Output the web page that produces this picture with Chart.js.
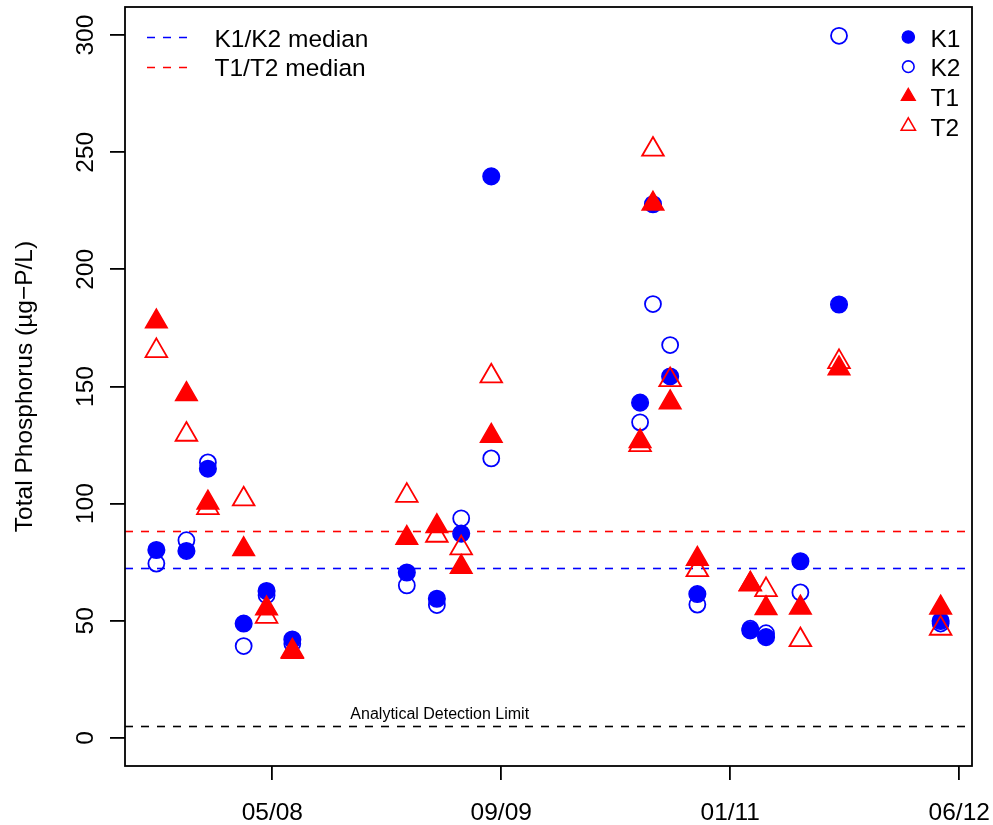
<!DOCTYPE html>
<html>
<head>
<meta charset="utf-8">
<script src="https://cdn.jsdelivr.net/npm/chart.js@4.4.0/dist/chart.umd.min.js"></script>
<style>
  html, body { margin: 0; padding: 0; background: #fff; }
  canvas { display: block; }
</style>
</head>
<body>
<canvas id="tpChart" width="993" height="825"></canvas>
<script>
// sampling dates, in months since Jan 2007
const sampleMonths = [7.9, 10.0, 11.5, 14.0, 15.6, 17.4, 25.4, 27.5, 29.2, 31.3,
                      41.7, 42.6, 43.8, 45.7, 49.4, 50.5, 52.9, 55.6, 62.7];
const k1Values = [80.2, 79.8, 114.9, 48.8, 62.7, 42.0, 70.6, 59.4, 87.2, 239.7,
                  143.1, 227.8, 154.3, 61.4, 45.9, 43.0, 75.4, 185.0, 49.9];
const k2Values = [74.4, 84.4, 117.6, 39.2, 60.9, 40.2, 65.1, 56.7, 93.7, 119.3,
                  134.7, 185.2, 167.7, 56.9, 46.6, 44.7, 62.1, 299.7, 48.8];
const t1Values = [177.7, 146.7, 100.4, 80.5, 55.2, 36.7, 85.3, 90.3, 73.0, 128.9,
                  126.6, 228.0, 143.2, 76.4, 65.7, 55.3, 55.6, 157.7, 55.6];
const t2Values = [165.2, 129.5, 98.2, 101.9, 51.8, 37.0, 103.4, 86.4, 81.0, 154.4,
                  125.1, 251.2, 152.8, 71.7, 65.5, 63.2, 41.8, 160.5, 46.7];

const xTickMonths = [16, 32, 48, 64];
const xTickLabels = ['05/08', '09/09', '01/11', '06/12'];
const yTickValues = [0, 50, 100, 150, 200, 250, 300];

const kMedian = 72.5;
const tMedian = 88.4;
const detectionLimit = 5;
const detectionLabelMonth = 27.7;

const BLUE = '#0000ff';
const RED = '#ff0000';
const FONT = '"Liberation Sans", Arial, Helvetica, sans-serif';

// R style axis limits: data range plus 4% each side
const xLo = Math.min(...sampleMonths), xHi = Math.max(...sampleMonths);
const xMin = xLo - 0.04 * (xHi - xLo);
const xMax = xHi + 0.04 * (xHi - xLo);

function toPoints(vals) {
    return vals.map((v, i) => ({ x: sampleMonths[i], y: v }));
}

function marker(ctx, style, x, y, r, filled, color, lw) {
    ctx.save();
    ctx.beginPath();
    if (style === 'circle') {
        ctx.arc(x, y, r, 0, Math.PI * 2);
    } else {
        ctx.moveTo(x, y - r);
        ctx.lineTo(x + r * Math.sin(Math.PI * 2 / 3), y + r / 2);
        ctx.lineTo(x - r * Math.sin(Math.PI * 2 / 3), y + r / 2);
        ctx.closePath();
    }
    ctx.strokeStyle = color;
    ctx.lineWidth = lw;
    if (filled) { ctx.fillStyle = color; ctx.fill(); }
    ctx.stroke();
    ctx.restore();
}

const rLook = {
    id: 'rLook',
    beforeDatasetsDraw(chart) {
        const { ctx, chartArea: a, scales: { x, y } } = chart;
        ctx.save();
        ctx.beginPath();
        ctx.rect(a.left, a.top, a.right - a.left, a.bottom - a.top);
        ctx.clip();
        ctx.lineWidth = 1.6;
        ctx.setLineDash([8, 8]);
        [[kMedian, BLUE], [tMedian, RED], [detectionLimit, '#000']].forEach(([v, c]) => {
            const py = Math.round(y.getPixelForValue(v)) + 0.5;
            ctx.strokeStyle = c;
            ctx.beginPath();
            ctx.moveTo(a.left, py);
            ctx.lineTo(a.right, py);
            ctx.stroke();
        });
        ctx.setLineDash([]);
        ctx.fillStyle = '#000';
        ctx.font = '16px ' + FONT;
        ctx.textAlign = 'center';
        ctx.textBaseline = 'alphabetic';
        ctx.fillText('Analytical Detection Limit',
            x.getPixelForValue(detectionLabelMonth), y.getPixelForValue(detectionLimit) - 7.5);
        ctx.restore();
    },
    afterDraw(chart) {
        const { ctx, chartArea: a, scales: { x, y } } = chart;
        ctx.save();
        // box
        ctx.strokeStyle = '#000';
        ctx.lineWidth = 1.8;
        ctx.strokeRect(a.left, a.top, a.right - a.left, a.bottom - a.top);

        ctx.fillStyle = '#000';
        ctx.font = '24.5px ' + FONT;
        ctx.textBaseline = 'alphabetic';
        ctx.textAlign = 'center';
        // x tick labels
        x.ticks.forEach((t, i) => {
            ctx.fillText(xTickLabels[i], x.getPixelForValue(t.value), 819.5);
        });
        // y tick labels, rotated like R
        y.ticks.forEach(t => {
            ctx.save();
            ctx.translate(93, y.getPixelForValue(t.value));
            ctx.rotate(-Math.PI / 2);
            ctx.fillText(String(t.value), 0, 0);
            ctx.restore();
        });
        // axis title
        ctx.save();
        ctx.translate(32, (a.top + a.bottom) / 2);
        ctx.rotate(-Math.PI / 2);
        ctx.fillText('Total Phosphorus (\u00b5g\u2212P/L)', 0, 0);
        ctx.restore();

        // legend, top left (median lines)
        ctx.textAlign = 'left';
        const rowH = 29.7, top = 37;
        [['K1/K2 median', BLUE], ['T1/T2 median', RED]].forEach(([txt, c], i) => {
            const ly = Math.round(top + i * rowH) + 0.5;
            ctx.save();
            ctx.strokeStyle = c;
            ctx.lineWidth = 1.6;
            ctx.setLineDash([8, 8]);
            ctx.beginPath();
            ctx.moveTo(147, ly);
            ctx.lineTo(188, ly);
            ctx.stroke();
            ctx.restore();
            ctx.fillText(txt, 214.5, top + i * rowH + 9.5);
        });

        // legend, top right (sites)
        const items = [
            ['K1', 'circle', true, BLUE, 6.2],
            ['K2', 'circle', false, BLUE, 5.8],
            ['T1', 'triangle', true, RED, 8.2],
            ['T2', 'triangle', false, RED, 8.2]
        ];
        items.forEach(([txt, st, filled, c, r], i) => {
            const ly = top + i * rowH;
            marker(ctx, st, 908.3, ly, r, filled, c, filled ? 1.2 : 1.6);
            ctx.fillStyle = '#000';
            ctx.fillText(txt, 930.5, ly + 9.5);
        });
        ctx.restore();
    }
};

const ctx = document.getElementById('tpChart').getContext('2d');
new Chart(ctx, {
    type: 'scatter',
    data: {
        datasets: [{
            label: 'K1',
            data: toPoints(k1Values),
            pointStyle: 'circle',
            pointRadius: 8.3,
            pointHoverRadius: 8.3,
            backgroundColor: BLUE,
            borderColor: BLUE,
            borderWidth: 1.5,
            order: 4
        }, {
            label: 'K2',
            data: toPoints(k2Values),
            pointStyle: 'circle',
            pointRadius: 8,
            pointHoverRadius: 8,
            backgroundColor: 'rgba(0,0,0,0)',
            borderColor: BLUE,
            borderWidth: 1.8,
            order: 3
        }, {
            label: 'T1',
            data: toPoints(t1Values),
            pointStyle: 'triangle',
            pointRadius: 12.5,
            pointHoverRadius: 12.5,
            backgroundColor: RED,
            borderColor: RED,
            borderWidth: 1.5,
            order: 2
        }, {
            label: 'T2',
            data: toPoints(t2Values),
            pointStyle: 'triangle',
            pointRadius: 12.5,
            pointHoverRadius: 12.5,
            backgroundColor: 'rgba(0,0,0,0)',
            borderColor: RED,
            borderWidth: 1.8,
            order: 1
        }]
    },
    options: {
        responsive: false,
        animation: false,
        events: [],
        layout: { autoPadding: false, padding: { left: 0, top: 7, right: 21, bottom: 0 } },
        plugins: {
            legend: { display: false },
            tooltip: { enabled: false }
        },
        scales: {
            x: {
                type: 'linear',
                min: xMin,
                max: xMax,
                afterBuildTicks: s => { s.ticks = xTickMonths.map(v => ({ value: v })); },
                afterFit: s => { s.height = 59; },
                ticks: { display: false },
                border: { display: false },
                grid: { drawOnChartArea: false, drawTicks: true, tickLength: 14, color: '#000', lineWidth: 1.8 }
            },
            y: {
                type: 'linear',
                min: -12,
                max: 312,
                afterBuildTicks: s => { s.ticks = yTickValues.map(v => ({ value: v })); },
                afterFit: s => { s.width = 125; },
                ticks: { display: false },
                border: { display: false },
                grid: { drawOnChartArea: false, drawTicks: true, tickLength: 15, color: '#000', lineWidth: 1.8 }
            }
        }
    },
    plugins: [rLook]
});
</script>
</body>
</html>
